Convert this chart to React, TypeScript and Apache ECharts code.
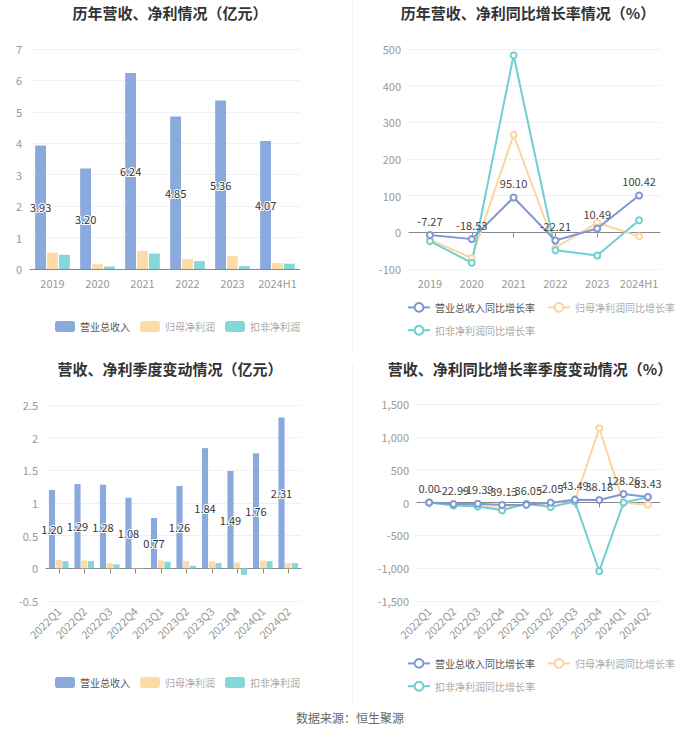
import React, { useEffect, useRef } from "react";
import * as echarts from "echarts";

const yearCats = ["2019", "2020", "2021", "2022", "2023", "2024H1"];
const yearRevenue = [3.93, 3.2, 6.24, 4.85, 5.36, 4.07];
const yearNetProfit = [0.52, 0.15, 0.58, 0.32, 0.41, 0.19];
const yearDeductedProfit = [0.45, 0.08, 0.49, 0.25, 0.09, 0.17];

const yearRevenueGrowth = [-7.27, -18.53, 95.1, -22.21, 10.49, 100.42];
const yearNetProfitGrowth = [-20, -70, 266, -42, 26, -11];
const yearDeductedGrowth = [-24, -83, 483, -49, -63, 33];

const quarterCats = ["2022Q1", "2022Q2", "2022Q3", "2022Q4", "2023Q1", "2023Q2", "2023Q3", "2023Q4", "2024Q1", "2024Q2"];
const quarterRevenue = [1.2, 1.29, 1.28, 1.08, 0.77, 1.26, 1.84, 1.49, 1.76, 2.31];
const quarterNetProfit = [0.13, 0.12, 0.08, 0.01, 0.12, 0.11, 0.11, 0.09, 0.12, 0.08];
const quarterDeductedProfit = [0.11, 0.11, 0.06, 0.005, 0.1, 0.04, 0.08, -0.1, 0.11, 0.08];

const quarterRevenueGrowth = [0.0, -22.99, -19.39, -39.13, -36.05, -2.05, 43.49, 38.18, 128.26, 83.43];
const quarterNetProfitGrowth = [0, -30, -45, -90, -25, -10, 30, 1130, -5, -35];
const quarterDeductedGrowth = [0, -45, -60, -120, -20, -70, 15, -1047, 0, 80];

const barNames = ["营业总收入", "归母净利润", "扣非净利润"];
const lineNames = ["营业总收入同比增长率", "归母净利润同比增长率", "扣非净利润同比增长率"];

const titles = [
  { text: "历年营收、净利情况（亿元）", x: 170, y: 12 },
  { text: "历年营收、净利同比增长率情况（%）", x: 528, y: 12 },
  { text: "营收、净利季度变动情况（亿元）", x: 170, y: 368 },
  { text: "营收、净利同比增长率季度变动情况（%）", x: 530, y: 368 },
];
const footer = "数据来源：恒生聚源";

const FONT = "'Noto Sans CJK SC', 'Noto Sans', sans-serif";
const BAR_COLORS = ["#8aa9dc", "#fddba6", "#84d8d9"];
const LINE_COLORS = ["#7f98d4", "#fdd4a0", "#6fcfd0"];

export default function App() {
  const ref = useRef<HTMLDivElement>(null);

  useEffect(() => {
    if (!ref.current) return;
    const chart = echarts.init(ref.current, null, { renderer: "svg" });

    const axisLabel = { color: "#999", fontSize: 11, fontFamily: FONT, interval: 0 };
    const splitLine = { show: true, lineStyle: { color: "#eef0f4" } };
    const axisLine = { show: true, lineStyle: { color: "#888" } };

    const legendData = (names: string[]) =>
      names.map((n, i) => ({ name: n, textStyle: { color: i === 0 ? "#555" : "#aaa" } }));

    const barLabel = {
      show: true,
      position: "inside",
      color: "#333",
      fontSize: 11,
      fontFamily: FONT,
      textBorderColor: "#fff",
      textBorderWidth: 2,
      formatter: (p: any) => Number(p.value).toFixed(2),
    };
    const lineLabel = {
      show: true,
      position: "top",
      color: "#444",
      fontSize: 11,
      fontFamily: FONT,
      formatter: (p: any) => Number(p.value).toFixed(2),
    };

    const barSeries = (xi: number, data: number[][], withLabel: boolean) =>
      data.map((d, i) => ({
        name: barNames[i],
        type: "bar",
        xAxisIndex: xi,
        yAxisIndex: xi,
        data: d,
        itemStyle: { color: BAR_COLORS[i] },
        label: i === 0 && withLabel ? barLabel : { show: false },
      }));

    const lineSeries = (xi: number, data: number[][]) =>
      data.map((d, i) => ({
        name: lineNames[i],
        type: "line",
        xAxisIndex: xi,
        yAxisIndex: xi,
        data: d,
        symbol: "emptyCircle",
        symbolSize: 6,
        lineStyle: { color: LINE_COLORS[i], width: 2 },
        itemStyle: { color: LINE_COLORS[i] },
        label: i === 0 ? lineLabel : { show: false },
        z: i === 0 ? 4 : 3,
      }));

    const legendText = { fontSize: 10, fontFamily: FONT };

    const option: any = {
      animation: false,
      textStyle: { fontFamily: FONT },
      grid: [
        { left: 30, right: 400, top: 49, bottom: 465 },
        { left: 409, right: 40, top: 49, bottom: 465 },
        { left: 46, right: 399, top: 405, bottom: 133 },
        { left: 417, right: 40, top: 404, bottom: 133 },
      ],
      xAxis: [
        { type: "category", gridIndex: 0, data: yearCats, axisLabel, axisLine, axisTick: { show: false } },
        { type: "category", gridIndex: 1, data: yearCats, axisLabel, axisLine, axisTick: { show: true, alignWithLabel: true } },
        { type: "category", gridIndex: 2, data: quarterCats, axisLabel: { ...axisLabel, rotate: 45 }, axisLine, axisTick: { show: true, alignWithLabel: true } },
        { type: "category", gridIndex: 3, data: quarterCats, axisLabel: { ...axisLabel, rotate: 45 }, axisLine, axisTick: { show: true, alignWithLabel: true } },
      ],
      yAxis: [
        { type: "value", gridIndex: 0, min: 0, max: 7, interval: 1, axisLabel, splitLine, axisLine: { show: false } },
        { type: "value", gridIndex: 1, min: -100, max: 500, interval: 100, axisLabel, splitLine, axisLine: { show: false } },
        { type: "value", gridIndex: 2, min: -0.5, max: 2.5, interval: 0.5, axisLabel, splitLine, axisLine: { show: false } },
        {
          type: "value", gridIndex: 3, min: -1500, max: 1500, interval: 500,
          axisLabel: { ...axisLabel, formatter: (v: number) => v.toLocaleString("en-US") },
          splitLine, axisLine: { show: false },
        },
      ],
      legend: [
        { left: 50, top: 316, itemWidth: 20, itemHeight: 11, itemGap: 10, textStyle: legendText, data: legendData(barNames), selectedMode: false },
        { left: 402, top: 297, width: 290, itemWidth: 22, itemHeight: 11, itemGap: 12, textStyle: legendText, data: legendData(lineNames), selectedMode: false },
        { left: 50, top: 672, itemWidth: 20, itemHeight: 11, itemGap: 10, textStyle: legendText, data: legendData(barNames), selectedMode: false },
        { left: 402, top: 653, width: 290, itemWidth: 22, itemHeight: 11, itemGap: 12, textStyle: legendText, data: legendData(lineNames), selectedMode: false },
      ],
      series: [
        ...barSeries(0, [yearRevenue, yearNetProfit, yearDeductedProfit], true),
        ...lineSeries(1, [yearRevenueGrowth, yearNetProfitGrowth, yearDeductedGrowth]),
        ...barSeries(2, [quarterRevenue, quarterNetProfit, quarterDeductedProfit], true),
        ...lineSeries(3, [quarterRevenueGrowth, quarterNetProfitGrowth, quarterDeductedGrowth]),
      ],
      graphic: [
        ...titles.map((t) => ({
          type: "text",
          x: t.x,
          y: t.y,
          style: {
            text: t.text,
            fill: "#333",
            font: `bold 15px ${FONT}`,
            textAlign: "center",
            textVerticalAlign: "middle",
          },
        })),
        {
          type: "text",
          x: 350,
          y: 717,
          style: { text: footer, fill: "#666", font: `12px ${FONT}`, textAlign: "center", textVerticalAlign: "middle" },
        },
        { type: "line", shape: { x1: 352.5, y1: 0, x2: 352.5, y2: 350 }, style: { stroke: "#f2f2f2", lineWidth: 1 } },
        { type: "line", shape: { x1: 352.5, y1: 364, x2: 352.5, y2: 702 }, style: { stroke: "#f2f2f2", lineWidth: 1 } },
      ],
    };

    chart.setOption(option);
    return () => chart.dispose();
  }, []);

  return (
    <div
      ref={ref}
      style={{ position: "absolute", left: 0, top: 0, width: 700, height: 734, background: "#fff" }}
    />
  );
}
